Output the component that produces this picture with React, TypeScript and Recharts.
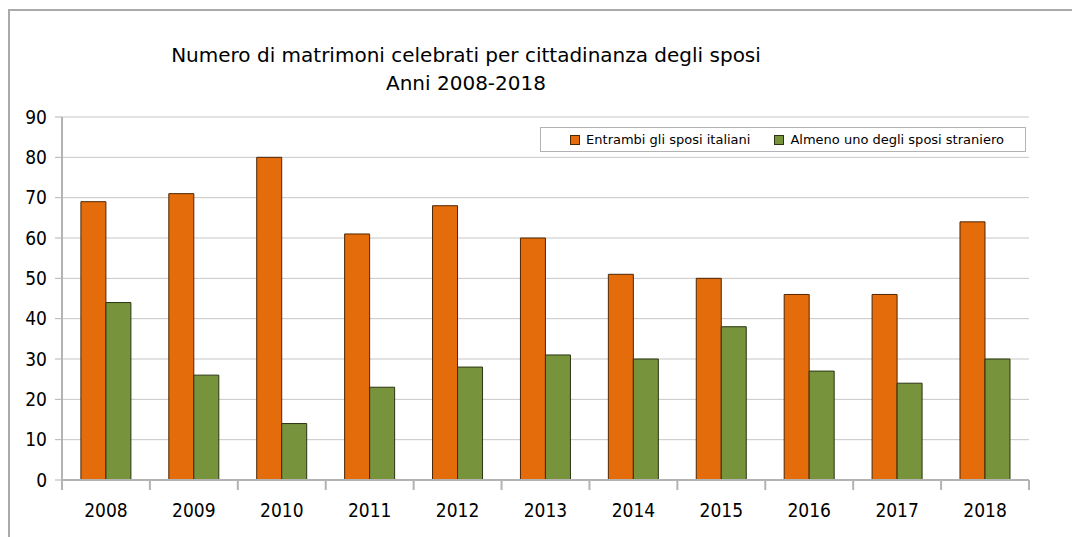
import { BarChart, Bar, XAxis, YAxis, CartesianGrid, Legend } from 'recharts';

const YEARS = ['2008', '2009', '2010', '2011', '2012', '2013', '2014', '2015', '2016', '2017', '2018'];
const ITALIANI = [69, 71, 80, 61, 68, 60, 51, 50, 46, 46, 64];
const STRANIERO = [44, 26, 14, 23, 28, 31, 30, 38, 27, 24, 30];
const Y_TICKS = [0, 10, 20, 30, 40, 50, 60, 70, 80, 90];
const SERIES = [
  { key: 'italiani', name: 'Entrambi gli sposi italiani', color: '#e46c0a', stroke: '#4d2604' },
  { key: 'straniero', name: 'Almeno uno degli sposi straniero', color: '#77933c', stroke: '#2a3512' },
];

const data = YEARS.map((year, i) => ({ year, italiani: ITALIANI[i], straniero: STRANIERO[i] }));

const FONT = '"DejaVu Sans Condensed", "DejaVu Sans", sans-serif';
const FONT_WIDE = '"DejaVu Sans", sans-serif';
const GRID = '#c6c6c6';
const AXIS = '#b3b3b3';

function YearTick(props: any) {
  const { x, y, payload, index } = props;
  const half = payload.offset ?? 0;
  return (
    <g>
      <line x1={x - half} y1={y - 8} x2={x - half} y2={y + 2} stroke={AXIS} strokeWidth={2} />
      {index === YEARS.length - 1 && (
        <line x1={x + half} y1={y - 8} x2={x + half} y2={y + 2} stroke={AXIS} strokeWidth={2} />
      )}
      <text x={x} y={y + 29} textAnchor="middle" fontSize={19} fill="#000" fontFamily={FONT}>
        {payload.value}
      </text>
    </g>
  );
}

function LegendBox() {
  return (
    <div
      style={{
        border: `1px solid ${AXIS}`,
        height: 25,
        boxSizing: 'border-box',
        display: 'flex',
        alignItems: 'center',
        justifyContent: 'center',
        gap: 24,
        paddingLeft: 8,
        background: '#fff',
        fontFamily: FONT_WIDE,
        fontSize: 13,
        color: '#000',
      }}
    >
      {SERIES.map((s) => (
        <span key={s.key} style={{ display: 'flex', alignItems: 'center' }}>
          <span
            style={{
              width: 8,
              height: 8,
              background: s.color,
              border: `1px solid ${s.stroke}`,
              marginRight: 6,
              display: 'inline-block',
            }}
          />
          {s.name}
        </span>
      ))}
    </div>
  );
}

export default function App() {
  return (
    <div style={{ position: 'absolute', left: 0, top: 0, width: 1072, height: 537, background: '#fff' }}>
      <div
        style={{
          position: 'absolute',
          left: 8,
          top: 9,
          right: 0,
          bottom: 0,
          borderTop: '2px solid #aaaaaa',
          borderLeft: '2px solid #aaaaaa',
        }}
      />
      <div
        style={{
          position: 'absolute',
          left: 116,
          width: 700,
          top: 41,
          textAlign: 'center',
          fontFamily: FONT_WIDE,
          fontSize: 20,
          lineHeight: '28px',
          color: '#000',
        }}
      >
        Numero di matrimoni celebrati per cittadinanza degli sposi
        <br />
        Anni 2008-2018
      </div>
      <div style={{ position: 'absolute', left: 0, top: 0 }}>
        <BarChart
          width={1072}
          height={537}
          data={data}
          margin={{ top: 92, right: 43, bottom: 17, left: 0 }}
          barCategoryGap="21.5%"
          barGap={0}
        >
          <CartesianGrid vertical={false} stroke={GRID} strokeWidth={1} />
          <XAxis
            dataKey="year"
            height={40}
            axisLine={{ stroke: AXIS, strokeWidth: 2 }}
            tickLine={false}
            tick={<YearTick />}
            interval={0}
          />
          <YAxis
            width={62}
            domain={[0, 90]}
            ticks={Y_TICKS}
            interval={0}
            axisLine={{ stroke: AXIS, strokeWidth: 2 }}
            tickLine={{ stroke: AXIS, strokeWidth: 1 }}
            tickSize={7}
            tickMargin={8}
            tick={{ fontSize: 19, fill: '#000', fontFamily: FONT }}
          />
          <Legend
            verticalAlign="top"
            align="right"
            wrapperStyle={{ position: 'absolute', left: 540, top: 127, width: 486, height: 25 }}
            content={() => <LegendBox />}
          />
          {SERIES.map((s) => (
            <Bar
              key={s.key}
              dataKey={s.key}
              name={s.name}
              fill={s.color}
              stroke={s.stroke}
              strokeWidth={1}
              isAnimationActive={false}
            />
          ))}
        </BarChart>
      </div>
    </div>
  );
}
